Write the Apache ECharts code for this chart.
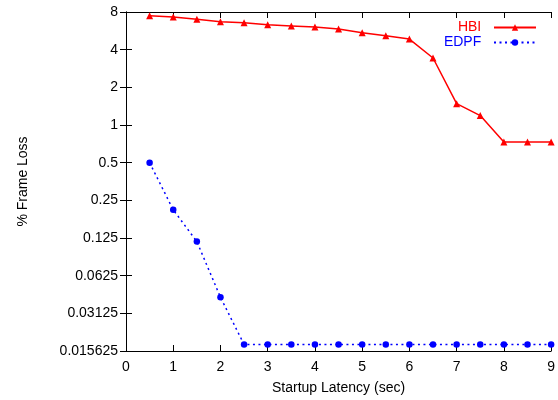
<!DOCTYPE html>
<html>
<head>
<meta charset="utf-8">
<script src="https://cdn.jsdelivr.net/npm/echarts@6/dist/echarts.min.js"></script>
<style>html,body{margin:0;padding:0;background:#fff}#c{width:558px;height:400px}</style>
</head>
<body>
<div id="c"></div>
<script>
var latency = [0.5,1,1.5,2,2.5,3,3.5,4,4.5,5,5.5,6,6.5,7,7.5,8,8.5,9];
var hbi = [7.47,7.3,7.0,6.7,6.57,6.33,6.19,6.06,5.86,5.47,5.17,4.86,3.43,1.48,1.19,0.73,0.73,0.73];
var edpf = [0.5,0.21,0.117,0.042,0.0176,0.0176,0.0176,0.0176,0.0176,0.0176,0.0176,0.0176,0.0176,0.0176,0.0176,0.0176,0.0176,0.0176];
var yTicks = ['0.015625','0.03125','0.0625','0.125','0.25','0.5','1','2','4','8'];

var FONT = 'Liberation Sans, Arial, sans-serif';
function pairs(xs, ys){ return xs.map(function(x,i){ return [x, ys[i]]; }); }
function ylab(v){
  var s = String(+v.toPrecision(6));
  return yTicks.indexOf(s) >= 0 ? s : '';
}
var axisLine = {show:true, lineStyle:{color:'#000', width:1}};
var chart = echarts.init(document.getElementById('c'), null, {renderer:'canvas'});
chart.setOption({
  animation:false,
  backgroundColor:'#fff',
  grid:{left:126, right:3, top:12, bottom:49, containLabel:false},
  legend:{
    orient:'vertical', right:21, top:20, align:'right',
    itemWidth:42, itemHeight:8, itemGap:0, padding:0,
    textStyle:{fontFamily:FONT, fontSize:14, lineHeight:15},
    formatter:function(n){ return n + '  '; },
    data:[
      {name:'HBI', textStyle:{color:'#ff0000'}},
      {name:'EDPF', textStyle:{color:'#0000ff'}}
    ]
  },
  xAxis:[
    {type:'value', position:'bottom', min:0, max:9, interval:1,
     name:'Startup Latency (sec)', nameLocation:'middle', nameGap:30,
     nameTextStyle:{fontFamily:FONT, fontSize:14, color:'#000'},
     axisLine:axisLine, axisTick:{show:true, inside:true, length:6, lineStyle:{color:'#000'}},
     axisLabel:{fontFamily:FONT, fontSize:14, color:'#000', margin:9},
     splitLine:{show:false}},
    {type:'value', position:'top', min:0, max:9, interval:1,
     axisLine:axisLine, axisTick:{show:true, inside:true, length:6, lineStyle:{color:'#000'}},
     axisLabel:{show:false}, splitLine:{show:false}}
  ],
  yAxis:[
    {type:'log', logBase:2, min:0.015625, max:8, position:'left',
     name:'% Frame Loss', nameLocation:'middle', nameGap:96,
     nameTextStyle:{fontFamily:FONT, fontSize:14, color:'#000'},
     axisLine:axisLine, axisTick:{show:true, inside:true, length:6, lineStyle:{color:'#000'}},
     axisLabel:{fontFamily:FONT, fontSize:14, color:'#000', margin:8, formatter:ylab},
     splitLine:{show:false}, minorTick:{show:false}},
    {type:'log', logBase:2, min:0.015625, max:8, position:'right',
     axisLine:axisLine, axisTick:{show:true, inside:true, length:6, lineStyle:{color:'#000'}},
     axisLabel:{show:false}, splitLine:{show:false}}
  ],
  series:[
    {name:'HBI', type:'line', xAxisIndex:0, yAxisIndex:0, data:pairs(latency, hbi),
     symbol:'triangle', symbolSize:7, showAllSymbol:true,
     itemStyle:{color:'#ff0000'}, lineStyle:{color:'#ff0000', width:1.5}},
    {name:'EDPF', type:'line', xAxisIndex:0, yAxisIndex:0, data:pairs(latency, edpf),
     symbol:'circle', symbolSize:6.5, showAllSymbol:true,
     itemStyle:{color:'#0000ff'}, lineStyle:{color:'#0000ff', width:1.5, type:[2,3.5]}}
  ]
});
</script>
</body>
</html>
